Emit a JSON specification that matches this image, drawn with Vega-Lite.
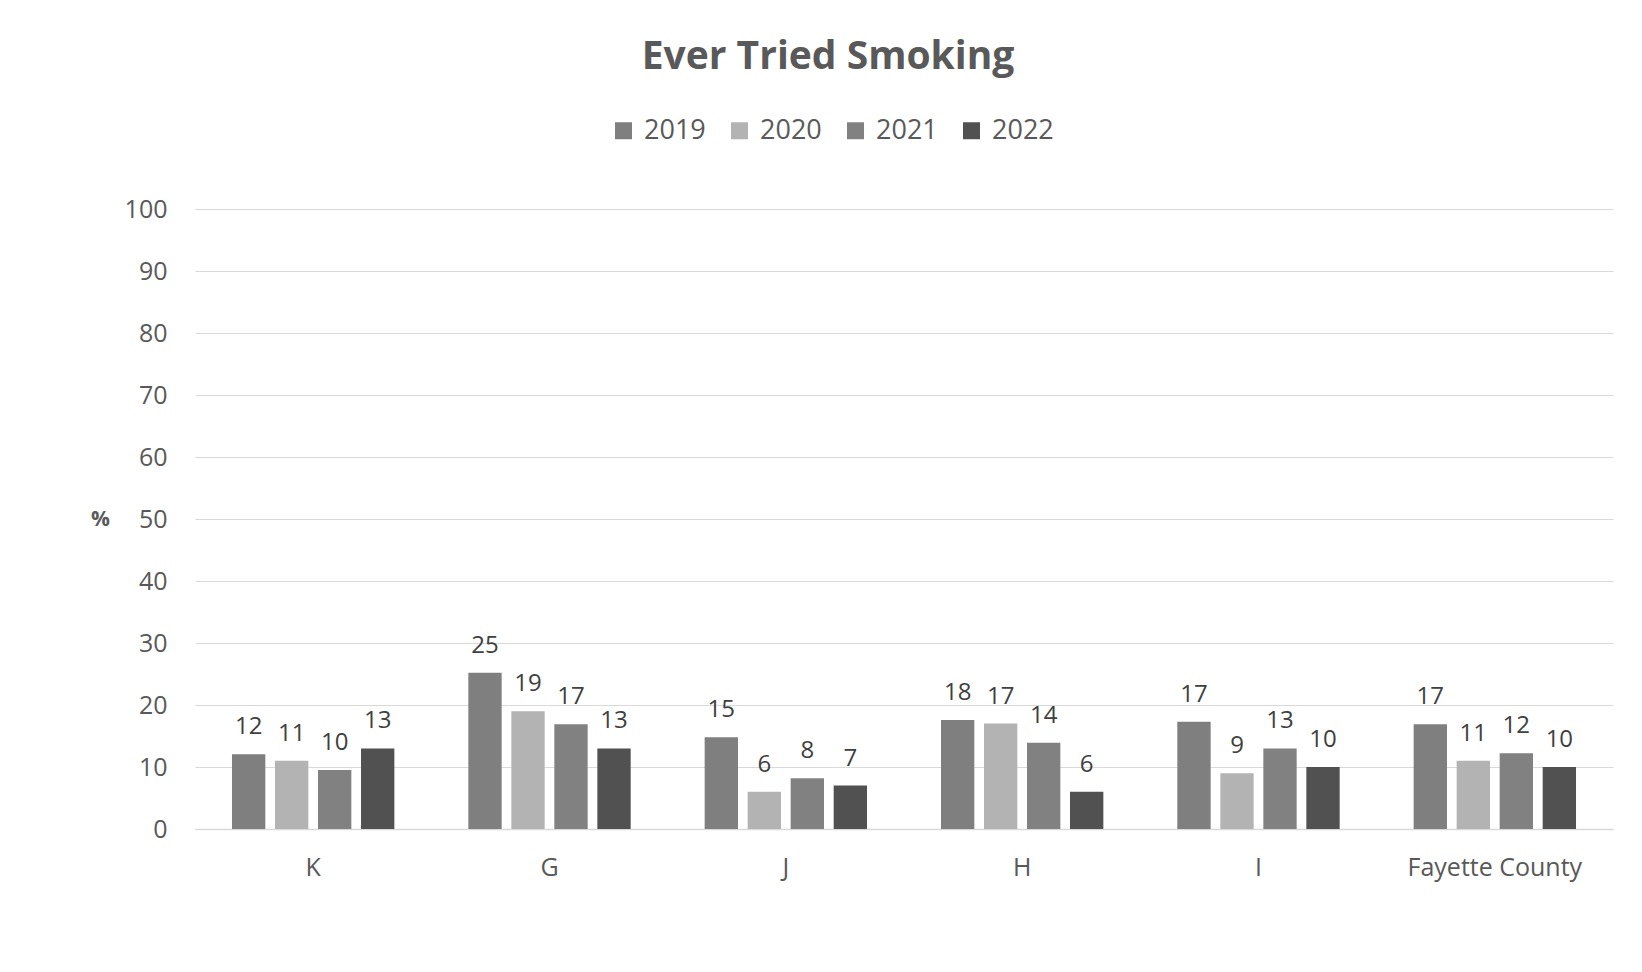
{
  "$schema": "https://vega.github.io/schema/vega-lite/v6.json",
  "width": 1418,
  "height": 620,
  "autosize": {"type": "none"},
  "padding": {"left": 195, "top": 209, "right": 29, "bottom": 143},
  "background": "white",
  "title": {
    "text": "Ever Tried Smoking",
    "font": "Open Sans",
    "fontSize": 39,
    "fontWeight": "bold",
    "color": "#595959",
    "anchor": "middle",
    "frame": "group",
    "dx": -76,
    "baseline": "alphabetic",
    "offset": 9
  },
  "data": {
    "values": [
      {"group": "K", "year": "2019", "value": 12.05},
      {"group": "K", "year": "2020", "value": 11.0},
      {"group": "K", "year": "2021", "value": 9.5},
      {"group": "K", "year": "2022", "value": 13.0},
      {"group": "G", "year": "2019", "value": 25.2},
      {"group": "G", "year": "2020", "value": 19.0},
      {"group": "G", "year": "2021", "value": 16.9},
      {"group": "G", "year": "2022", "value": 13.0},
      {"group": "J", "year": "2019", "value": 14.8},
      {"group": "J", "year": "2020", "value": 6.0},
      {"group": "J", "year": "2021", "value": 8.2},
      {"group": "J", "year": "2022", "value": 7.0},
      {"group": "H", "year": "2019", "value": 17.6},
      {"group": "H", "year": "2020", "value": 17.0},
      {"group": "H", "year": "2021", "value": 13.9},
      {"group": "H", "year": "2022", "value": 6.0},
      {"group": "I", "year": "2019", "value": 17.3},
      {"group": "I", "year": "2020", "value": 9.0},
      {"group": "I", "year": "2021", "value": 13.0},
      {"group": "I", "year": "2022", "value": 10.0},
      {"group": "Fayette County", "year": "2019", "value": 16.9},
      {"group": "Fayette County", "year": "2020", "value": 11.0},
      {"group": "Fayette County", "year": "2021", "value": 12.2},
      {"group": "Fayette County", "year": "2022", "value": 10.0}
    ]
  },
  "encoding": {
    "x": {
      "field": "group",
      "type": "nominal",
      "sort": ["K", "G", "J", "H", "I", "Fayette County"],
      "scale": {"paddingInner": 0, "paddingOuter": 0},
      "axis": {
        "title": null,
        "labelAngle": 0,
        "ticks": false,
        "labelPadding": 26,
        "labelFont": "Open Sans",
        "labelFontSize": 25,
        "labelColor": "#595959",
        "domainColor": "#d9d9d9",
        "domainWidth": 1.5,
        "grid": false
      }
    },
    "xOffset": {
      "field": "year",
      "type": "nominal",
      "sort": ["2019", "2020", "2021", "2022"],
      "scale": {"paddingInner": 0.225, "paddingOuter": 0.86}
    },
    "y": {
      "field": "value",
      "type": "quantitative",
      "scale": {"domain": [0, 100], "nice": false},
      "axis": {
        "title": "%",
        "titleAngle": 0,
        "titleX": -95,
        "titleY": 310,
        "titleAlign": "center",
        "titleBaseline": "middle",
        "titleFont": "Open Sans",
        "titleFontSize": 21,
        "titleFontWeight": "bold",
        "titleColor": "#595959",
        "values": [0, 10, 20, 30, 40, 50, 60, 70, 80, 90, 100],
        "ticks": false,
        "domain": false,
        "labelPadding": 28,
        "labelFont": "Open Sans",
        "labelFontSize": 25,
        "labelColor": "#595959",
        "gridColor": "#d9d9d9",
        "gridWidth": 1
      }
    }
  },
  "layer": [
    {
      "mark": {"type": "bar"},
      "encoding": {
        "color": {
          "field": "year",
          "type": "nominal",
          "sort": ["2019", "2020", "2021", "2022"],
          "scale": {
            "domain": ["2019", "2020", "2021", "2022"],
            "range": ["#7f7f7f", "#b3b3b3", "#818181", "#515151"]
          },
          "legend": {
            "title": null,
            "orient": "none",
            "direction": "horizontal",
            "legendX": 415,
            "legendY": -92,
            "symbolType": "square",
            "symbolSize": 289,
            "symbolStrokeWidth": 0,
            "labelFont": "Open Sans",
            "labelFontSize": 27,
            "labelColor": "#595959",
            "labelOffset": 7,
            "columnPadding": 20
          }
        }
      }
    },
    {
      "mark": {
        "type": "text",
        "baseline": "alphabetic",
        "dy": -20,
        "font": "Open Sans",
        "fontSize": 24,
        "color": "#404040"
      },
      "encoding": {
        "text": {"field": "value", "type": "quantitative", "format": ".0f"}
      }
    }
  ],
  "config": {
    "view": {"stroke": null}
  }
}
